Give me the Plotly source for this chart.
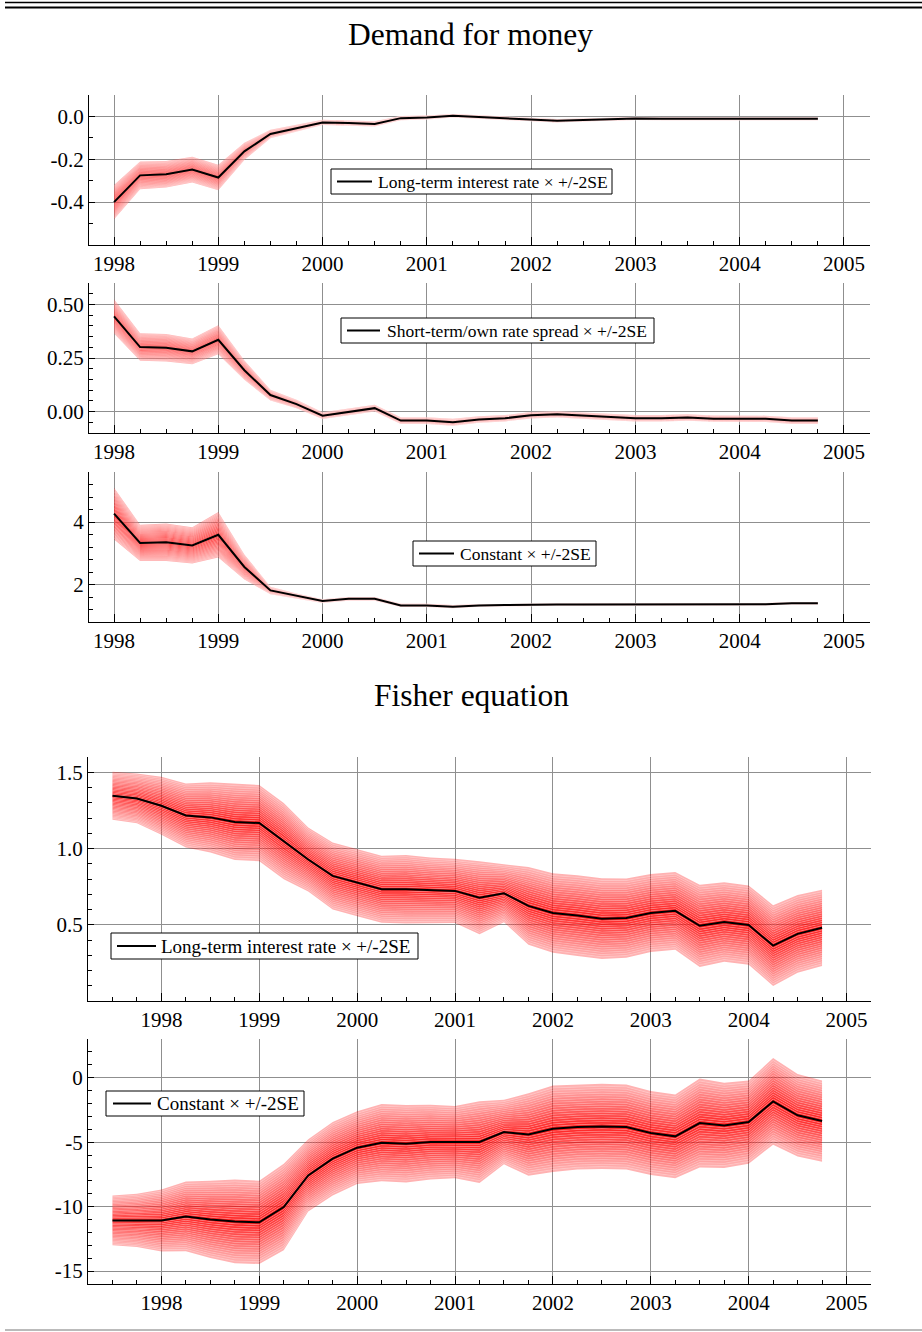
import plotly.graph_objects as go

# ---------------- data ----------------
x_dm = [1998.00, 1998.25, 1998.50, 1998.75, 1999.00, 1999.25, 1999.50, 1999.75,
        2000.00, 2000.25, 2000.50, 2000.75, 2001.00, 2001.25, 2001.50, 2001.75,
        2002.00, 2002.25, 2002.50, 2002.75, 2003.00, 2003.25, 2003.50, 2003.75,
        2004.00, 2004.25, 2004.50, 2004.75]

lt_rate_mean = [-0.400, -0.275, -0.270, -0.248, -0.285, -0.163, -0.082, -0.055,
                -0.028, -0.031, -0.035, -0.008, -0.005, 0.003, -0.003, -0.009,
                -0.015, -0.020, -0.017, -0.014, -0.010, -0.011, -0.011, -0.011,
                -0.011, -0.011, -0.011, -0.011]
lt_rate_se2 = [0.080, 0.065, 0.062, 0.060, 0.060, 0.040, 0.020, 0.015,
               0.012, 0.012, 0.012, 0.010, 0.009, 0.008, 0.008, 0.008,
               0.008, 0.008, 0.007, 0.007, 0.007, 0.007, 0.007, 0.007,
               0.007, 0.007, 0.007, 0.007]

spread_mean = [0.444, 0.301, 0.298, 0.281, 0.335, 0.193, 0.077, 0.035,
               -0.019, -0.002, 0.016, -0.042, -0.042, -0.050, -0.037, -0.031,
               -0.017, -0.013, -0.019, -0.027, -0.031, -0.031, -0.028, -0.033,
               -0.034, -0.034, -0.042, -0.042]
spread_se2 = [0.080, 0.064, 0.064, 0.060, 0.068, 0.045, 0.025, 0.020,
              0.016, 0.016, 0.016, 0.016, 0.016, 0.016, 0.015, 0.015,
              0.015, 0.015, 0.015, 0.015, 0.015, 0.015, 0.015, 0.015,
              0.015, 0.015, 0.016, 0.016]

const_dm_mean = [4.27, 3.33, 3.35, 3.25, 3.59, 2.56, 1.81, 1.63,
                 1.47, 1.54, 1.54, 1.33, 1.33, 1.29, 1.33, 1.34,
                 1.36, 1.36, 1.36, 1.36, 1.36, 1.36, 1.36, 1.36,
                 1.36, 1.37, 1.40, 1.40]
const_dm_se2 = [0.83, 0.58, 0.60, 0.58, 0.73, 0.40, 0.12, 0.08,
                0.06, 0.06, 0.06, 0.05, 0.05, 0.05, 0.04, 0.04,
                0.04, 0.04, 0.04, 0.04, 0.04, 0.04, 0.04, 0.04,
                0.04, 0.04, 0.04, 0.04]

x_fe = [1997.50, 1997.75, 1998.00, 1998.25, 1998.50, 1998.75, 1999.00, 1999.25,
        1999.50, 1999.75, 2000.00, 2000.25, 2000.50, 2000.75, 2001.00, 2001.25,
        2001.50, 2001.75, 2002.00, 2002.25, 2002.50, 2002.75, 2003.00, 2003.25,
        2003.50, 2003.75, 2004.00, 2004.25, 2004.50, 2004.75]

fe_rate_mean = [1.346, 1.328, 1.280, 1.217, 1.204, 1.174, 1.167, 1.048,
                0.928, 0.820, 0.776, 0.733, 0.733, 0.726, 0.722, 0.677,
                0.706, 0.624, 0.577, 0.560, 0.540, 0.544, 0.577, 0.591,
                0.493, 0.518, 0.498, 0.363, 0.440, 0.480]
fe_rate_se2 = [0.157, 0.163, 0.190, 0.210, 0.230, 0.250, 0.250, 0.250,
               0.210, 0.220, 0.220, 0.220, 0.225, 0.215, 0.210, 0.240,
               0.190, 0.255, 0.260, 0.265, 0.265, 0.260, 0.255, 0.255,
               0.270, 0.260, 0.260, 0.265, 0.255, 0.250]

fe_const_mean = [-11.07, -11.07, -11.07, -10.76, -10.99, -11.15, -11.22, -10.03,
                 -7.58, -6.28, -5.43, -5.04, -5.12, -4.99, -4.99, -4.99,
                 -4.22, -4.40, -3.96, -3.83, -3.78, -3.83, -4.29, -4.55,
                 -3.52, -3.70, -3.44, -1.84, -2.92, -3.36]
fe_const_se2 = [1.93, 2.07, 2.40, 2.70, 3.00, 3.25, 3.23, 3.36,
                2.80, 2.85, 2.82, 3.00, 3.00, 2.90, 2.80, 3.17,
                2.50, 3.20, 3.35, 3.30, 3.30, 3.30, 3.25, 3.25,
                3.45, 3.30, 3.23, 3.36, 3.20, 3.15]

year_ticks = [1998, 1999, 2000, 2001, 2002, 2003, 2004, 2005]

p1_yticks = [0.0, -0.2, -0.4]
p1_ylabels = ["0.0", "-0.2", "-0.4"]
p2_yticks = [0.5, 0.25, 0.0]
p2_ylabels = ["0.50", "0.25", "0.00"]
p3_yticks = [4, 2]
p3_ylabels = ["4", "2"]
p4_yticks = [1.5, 1.0, 0.5]
p4_ylabels = ["1.5", "1.0", "0.5"]
p5_yticks = [0, -5, -10, -15]
p5_ylabels = ["0", "-5", "-10", "-15"]

titles = ["Demand for money", "Fisher equation"]
legend_names = ["Long-term interest rate × +/-2SE",
                "Short-term/own rate spread × +/-2SE",
                "Constant × +/-2SE",
                "Long-term interest rate × +/-2SE",
                "Constant × +/-2SE"]

# ---------------- figure ----------------
W, H = 922, 1332
FONT = "Liberation Serif"
fig = go.Figure()

N_LAYERS = 18
A_IN, A_OUT = 0.90, 0.30


def add_fan(x, mean, se2, idx, name):
    xa = "x" if idx == 1 else f"x{idx}"
    ya = "y" if idx == 1 else f"y{idx}"
    bounds = []
    for k in range(-N_LAYERS, N_LAYERS + 1):
        bounds.append([m + s * k / N_LAYERS for m, s in zip(mean, se2)])
    n_strips = 2 * N_LAYERS
    for j, b in enumerate(bounds):
        if j == 0:
            fig.add_trace(go.Scatter(x=x, y=b, mode="lines", line=dict(width=0),
                                     xaxis=xa, yaxis=ya, showlegend=False,
                                     hoverinfo="skip"))
        else:
            s = j - 1
            t = (abs(s - (n_strips - 1) / 2) + 0.5) / N_LAYERS
            a = A_IN + (A_OUT - A_IN) * t
            fig.add_trace(go.Scatter(
                x=x, y=b, mode="lines",
                line=dict(width=0.6 if j < len(bounds) - 1 else 0,
                          color="rgba(255,255,255,0.35)"),
                fill="tonexty", fillcolor=f"rgba(255,0,0,{a:.3f})",
                xaxis=xa, yaxis=ya, showlegend=False, hoverinfo="skip"))
    fig.add_trace(go.Scatter(x=x, y=mean, mode="lines", name=name,
                             line=dict(color="black", width=2),
                             xaxis=xa, yaxis=ya, showlegend=False))


add_fan(x_dm, lt_rate_mean, lt_rate_se2, 1, legend_names[0])
add_fan(x_dm, spread_mean, spread_se2, 2, legend_names[1])
add_fan(x_dm, const_dm_mean, const_dm_se2, 3, legend_names[2])
add_fan(x_fe, fe_rate_mean, fe_rate_se2, 4, legend_names[3])
add_fan(x_fe, fe_const_mean, fe_const_se2, 5, legend_names[4])


def py(px):
    return 1 - px / H


# panel pixel boxes: (left, right, top, bottom)
boxes = {
    1: (89, 870, 95, 245),
    2: (89, 870, 283, 433),
    3: (89, 870, 472, 622),
    4: (88, 871, 757, 1001),
    5: (88, 871, 1039, 1284),
}
xranges = {1: [1997.76, 2005.25], 2: [1997.76, 2005.25], 3: [1997.76, 2005.25],
           4: [1997.25, 2005.25], 5: [1997.25, 2005.25]}
yranges = {1: [-0.6, 0.1], 2: [-0.1, 0.6], 3: [0.8, 5.6], 4: [0.0, 1.6], 5: [-16, 3]}
yticks = {1: (p1_yticks, p1_ylabels), 2: (p2_yticks, p2_ylabels),
          3: (p3_yticks, p3_ylabels), 4: (p4_yticks, p4_ylabels),
          5: (p5_yticks, p5_ylabels)}
yminor = {1: (-0.6, 0.1), 2: (-0.1, 0.05), 3: (0.8, 0.4), 4: (0.0, 0.1), 5: (-16, 1)}

GRID = "#8f8f8f"
tickfont = dict(family=FONT, size=21, color="black")
layout = {}
for i, (l, r, t, b) in boxes.items():
    xk = "xaxis" if i == 1 else f"xaxis{i}"
    yk = "yaxis" if i == 1 else f"yaxis{i}"
    layout[xk] = dict(
        domain=[l / W, r / W], anchor="y" if i == 1 else f"y{i}",
        range=xranges[i], tickmode="array", tickvals=year_ticks,
        ticktext=[str(v) for v in year_ticks],
        showgrid=True, gridcolor=GRID, gridwidth=1, zeroline=False,
        showline=True, linecolor="black", linewidth=1.3,
        ticks="inside", ticklen=8, tickwidth=1.2, tickcolor="black",
        tickfont=tickfont,
        minor=dict(tickmode="linear", tick0=1998, dtick=0.25, ticks="inside",
                   ticklen=4, tickwidth=1, tickcolor="black", showgrid=False),
    )
    tv, tt = yticks[i]
    layout[yk] = dict(
        domain=[py(b), py(t)], anchor="x" if i == 1 else f"x{i}",
        range=yranges[i], tickmode="array", tickvals=tv, ticktext=tt,
        showgrid=True, gridcolor=GRID, gridwidth=1, zeroline=False,
        showline=True, linecolor="black", linewidth=1.3,
        ticks="inside", ticklen=6, tickwidth=1.2, tickcolor="black",
        tickfont=tickfont,
        minor=dict(tickmode="linear", tick0=yminor[i][0], dtick=yminor[i][1],
                   ticks="inside", ticklen=4, tickwidth=1, tickcolor="black",
                   showgrid=False),
    )

fig.update_layout(
    width=W, height=H, margin=dict(l=0, r=0, t=0, b=0),
    paper_bgcolor="white", plot_bgcolor="white", showlegend=False,
    font=dict(family=FONT, color="black"),
    **layout,
)

# legend boxes: (box left, box right, box top, box bottom, line x0, line x1, text x, font)
legend_geom = [
    (331, 612, 169, 194, 337, 372, 376, 17.5),
    (341, 654, 318, 343, 347, 380, 385, 17.5),
    (413, 596, 541, 566, 419, 454, 458, 17.5),
    (111, 418, 933, 959, 117, 156, 159, 19),
    (106, 304, 1091, 1116, 113, 151, 155, 19),
]
for name, (bl, br, bt, bb, lx0, lx1, tx, fs) in zip(legend_names, legend_geom):
    fig.add_shape(type="rect", xref="paper", yref="paper",
                  x0=bl / W, x1=br / W, y0=py(bb), y1=py(bt),
                  line=dict(color="black", width=1), fillcolor="white", layer="above")
    yc = (bt + bb) / 2
    fig.add_shape(type="line", xref="paper", yref="paper",
                  x0=lx0 / W, x1=lx1 / W, y0=py(yc), y1=py(yc),
                  line=dict(color="black", width=2), layer="above")
    fig.add_annotation(text=name, x=tx / W, y=py(yc), xref="paper", yref="paper",
                       showarrow=False, xanchor="left", yanchor="middle",
                       font=dict(family=FONT, size=fs, color="black"))

fig.add_annotation(text=titles[0], x=470 / W, y=py(35), xref="paper", yref="paper",
                   showarrow=False, font=dict(family=FONT, size=31.5, color="black"),
                   xanchor="center", yanchor="middle")
fig.add_annotation(text=titles[1], x=471 / W, y=py(695), xref="paper", yref="paper",
                   showarrow=False, font=dict(family=FONT, size=31.5, color="black"),
                   xanchor="center", yanchor="middle")

# decorative rules
fig.add_shape(type="line", xref="paper", yref="paper", x0=5 / W, x1=1,
              y0=py(2.5), y1=py(2.5), line=dict(color="black", width=1.3))
fig.add_shape(type="line", xref="paper", yref="paper", x0=5 / W, x1=1,
              y0=py(7.5), y1=py(7.5), line=dict(color="black", width=1.8))
fig.add_shape(type="line", xref="paper", yref="paper", x0=5 / W, x1=1,
              y0=py(1330), y1=py(1330), line=dict(color="#777777", width=1))

fig.write_html("out.html", config={"displayModeBar": False},
               post_script="document.body.style.margin='0';document.body.style.overflow='hidden';")
